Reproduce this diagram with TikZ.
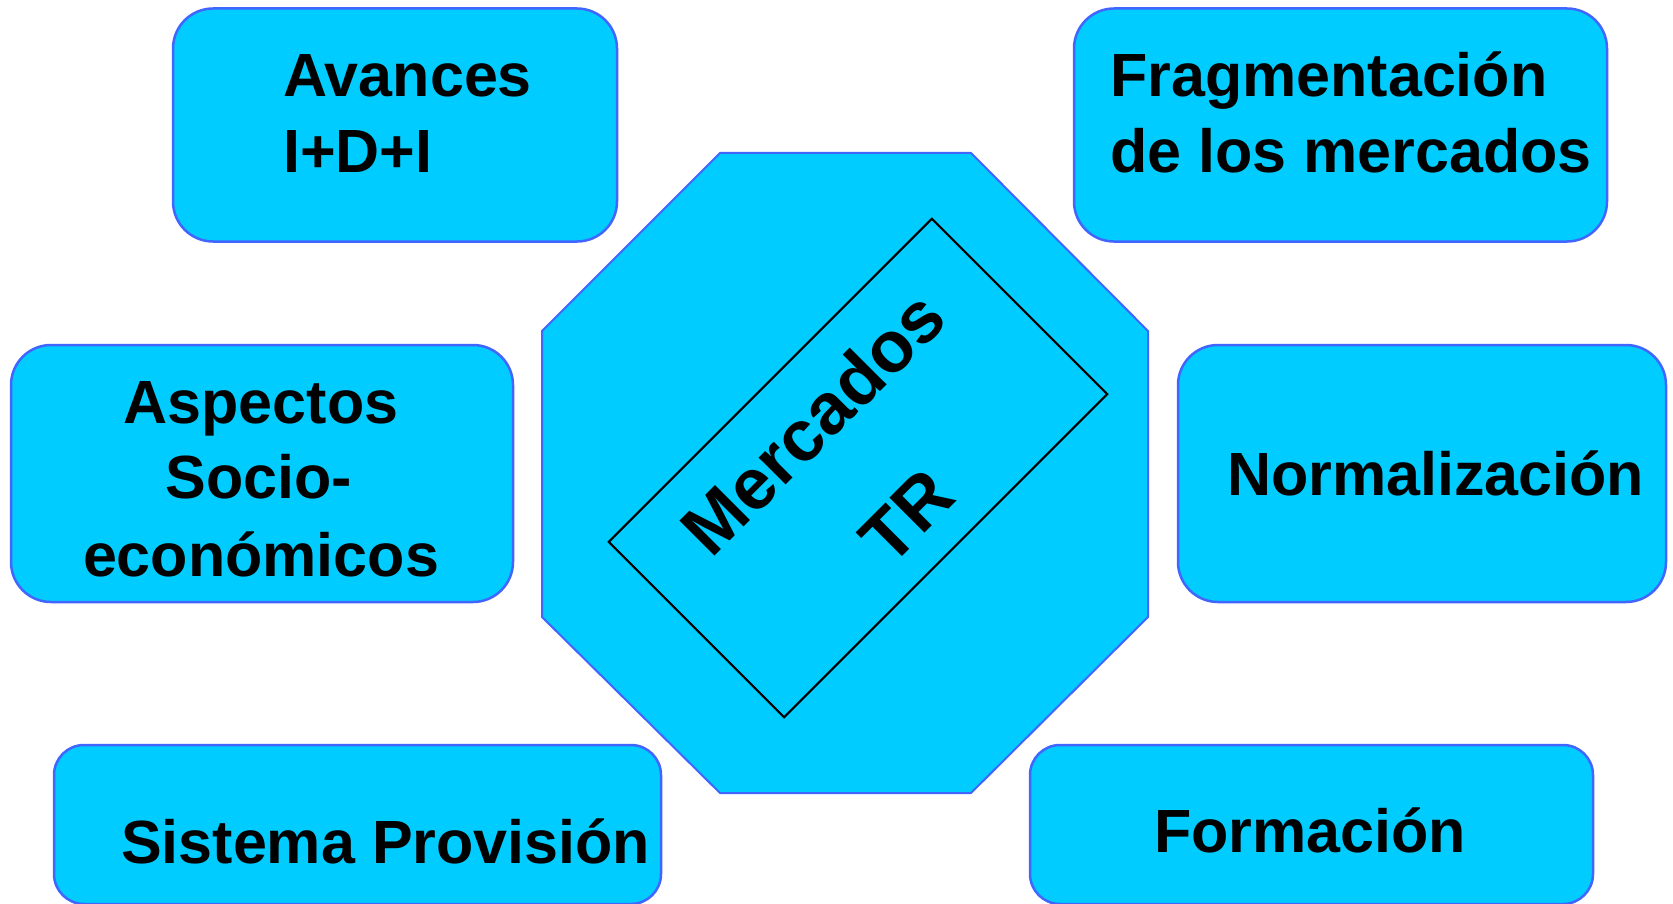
\documentclass[tikz,border=0pt]{standalone}
\usepackage{fontspec}
\setmainfont{Liberation Sans}
\definecolor{boxfill}{RGB}{0,204,255}
\definecolor{boxline}{RGB}{64,102,255}
\tikzset{
  rbox/.style={draw=boxline, fill=boxfill, line width=2.5pt, rounded corners=40pt, inner sep=0pt},
  rboxsmall/.style={rbox, rounded corners=30pt},
  lbl/.style={inner sep=0pt, font=\fontsize{61}{70}\selectfont\bfseries, anchor=base west},
  clbl/.style={lbl, anchor=base},
  mid/.style={inner sep=0pt, font=\fontsize{72}{132}\selectfont\bfseries, align=center, rotate=45},
}
\begin{document}
\begin{tikzpicture}[x=1pt,y=-1pt]
\useasboundingbox (0,0) rectangle (1673,904);
% octagon
\draw[draw=boxline, fill=boxfill, line width=2pt]
  (720,153) coordinate (o1) -- (971,153) coordinate (o2) -- (1148,331) coordinate (o3) -- (1148,617) coordinate (o4)
  -- (971,793) coordinate (o5) -- (720,793) coordinate (o6) -- (542,617) coordinate (o7) -- (542,331) coordinate (o8) -- cycle;
\node[draw=black, line width=2pt, rotate=45, minimum width=457pt, minimum height=248pt, inner sep=0pt] (core) at (858,468) {};
\node[mid] (mercados) at (859,469) {Mercados\\TR};
% boxes
\node[rbox, minimum width=444pt, minimum height=233pt] (avances) at (395,125) {};
\node[rbox, minimum width=533pt, minimum height=233pt] (frag) at (1340.5,125) {};
\node[rbox, minimum width=502pt, minimum height=257pt] (aspectos) at (262,473.5) {};
\node[rbox, minimum width=488pt, minimum height=257pt] (normal) at (1422,473.5) {};
\node[rboxsmall, minimum width=607pt, minimum height=159pt] (sistema) at (357.5,824.5) {};
\node[rboxsmall, minimum width=563pt, minimum height=159pt] (formacion) at (1311.5,824.5) {};
% texts
\node[lbl] (t1a) at (283,97) {Avances};
\node[lbl] (t1b) at (283,173) {I+D+I};
\node[lbl] (t2a) at (1110,97) {Fragmentación};
\node[lbl] (t2b) at (1110,173) {de los mercados};
\node[clbl] (t3a) at (261,423) {Aspectos};
\node[clbl] (t3b) at (259,498) {Socio-};
\node[clbl] (t3c) at (261,576) {económicos};
\node[lbl] (t4) at (1227,495) {Normalización};
\node[lbl] (t5) at (121,863) {Sistema Provisión};
\node[lbl] (t6) at (1154,852) {Formación};
\end{tikzpicture}
\end{document}
